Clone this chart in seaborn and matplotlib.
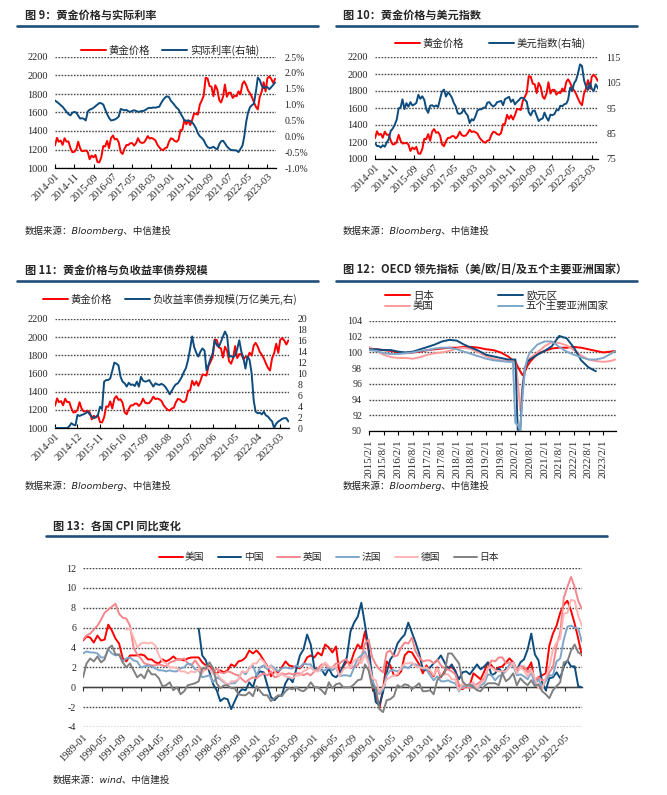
import matplotlib
matplotlib.use("Agg")
import matplotlib.pyplot as plt
from matplotlib.lines import Line2D
import pandas as pd
import seaborn as sns

W, H = 667, 795

# ---- data: gold price, monthly 2014-01 .. 2023-07 (shared by fig 9/10/11)
GOLD = [
    1244, 1326, 1284, 1296, 1250, 1322, 1285, 1287, 1216, 1171, 1175, 1199,
    1284, 1213, 1183, 1184, 1190, 1172, 1095, 1135, 1115, 1142, 1065, 1061,
    1118, 1238, 1233, 1293, 1215, 1322, 1351, 1309, 1316, 1277, 1173, 1151,
    1211, 1249, 1249, 1268, 1269, 1242, 1269, 1322, 1280, 1271, 1275, 1303,
    1345, 1318, 1325, 1315, 1299, 1253, 1224, 1201, 1192, 1215, 1222, 1282,
    1321, 1313, 1292, 1284, 1305, 1409, 1414, 1520, 1472, 1513, 1464, 1517,
    1589, 1585, 1577, 1686, 1730, 1781, 1975, 1968, 1886, 1879, 1776, 1895,
    1850, 1734, 1708, 1769, 1903, 1770, 1814, 1814, 1757, 1783, 1775, 1829,
    1797, 1909, 1937, 1897, 1838, 1807, 1766, 1711, 1661, 1633, 1769, 1824,
    1928, 1827, 1969, 1990, 1963, 1919, 1965,
]
REAL_RATE = [
    1.13, 1.08, 1.04, 0.98, 0.93, 0.85, 0.77, 0.70, 0.66, 0.74, 0.77, 0.75,
    0.65, 0.56, 0.57, 0.55, 0.50, 0.78, 0.84, 0.86, 0.90, 0.95, 1.00, 1.05,
    1.04, 1.00, 0.85, 0.70, 0.58, 0.50, 0.51, 0.53, 0.57, 0.62, 0.86, 0.84,
    0.82, 0.83, 0.79, 0.77, 0.80, 0.82, 0.80, 0.77, 0.78, 0.80, 0.80, 0.84,
    0.88, 0.90, 0.89, 0.91, 0.90, 0.92, 0.93, 1.05, 1.15, 1.22, 1.26, 1.24,
    1.12, 1.05, 0.98, 0.90, 0.85, 0.72, 0.62, 0.50, 0.49, 0.50, 0.48, 0.44,
    0.36, 0.25, 0.10, 0.00, -0.05, -0.12, -0.25, -0.34, -0.37, -0.36, -0.33, -0.38,
    -0.41, -0.25, -0.16, -0.14, -0.22, -0.32, -0.38, -0.43, -0.44, -0.44, -0.45, -0.50,
    -0.40, -0.30, -0.02, 0.45, 0.75, 0.92, 0.98, 1.03, 1.40, 1.85, 1.78, 1.60,
    1.52, 1.55, 1.55, 1.48, 1.55, 1.62, 1.70,
]
DXY = [
    81.3, 80.1, 80.1, 79.5, 80.4, 79.8, 81.5, 82.8, 86.0, 86.9, 88.4, 90.3,
    94.8, 95.3, 98.4, 94.6, 96.9, 95.5, 97.3, 96.0, 96.4, 97.0, 100.2, 98.6,
    99.6, 98.2, 94.6, 93.1, 95.9, 96.1, 95.5, 96.0, 95.4, 98.5, 101.5, 102.2,
    99.5, 101.1, 100.4, 99.1, 97.0, 95.6, 92.9, 92.7, 93.1, 94.6, 93.0, 92.1,
    89.1, 90.6, 90.1, 91.8, 94.0, 94.5, 94.5, 95.1, 95.1, 97.1, 97.3, 96.2,
    95.6, 96.2, 97.3, 97.5, 97.8, 96.1, 98.5, 98.9, 99.4, 97.4, 98.3, 96.4,
    97.4, 98.1, 99.0, 99.0, 98.3, 97.4, 93.3, 92.1, 93.9, 94.0, 91.9, 89.9,
    90.6, 90.9, 93.2, 91.3, 90.0, 92.4, 92.2, 92.6, 94.2, 94.1, 95.9, 95.7,
    96.5, 96.7, 98.3, 103.0, 101.7, 104.7, 105.9, 108.7, 112.1, 111.5, 105.9, 103.5,
    102.1, 104.9, 102.5, 101.7, 104.3, 102.9, 101.9,
]
NEG_BONDS = [
    0, 0, 0, 0, 0, 0, 0, 0.3, 0.9, 0.6, 0.5, 2.4,
    2.2, 2.4, 2.5, 2.7, 3.0, 2.5, 2.1, 1.8, 2.0, 2.4, 3.9, 3.5,
    8.5, 8.8, 8.8, 9.1, 10.5, 12.0, 11.8, 11.5, 9.4, 8.5, 8.2, 7.6,
    8.3, 7.9, 8.0, 7.7, 8.5, 7.6, 9.4, 8.7, 8.5, 8.6, 8.8, 8.2,
    7.6, 8.2, 8.0, 7.9, 8.1, 7.9, 7.5, 6.9, 6.2, 6.8, 7.5, 8.0,
    8.2, 8.8, 9.4, 10.3, 11.0, 12.5, 14.5, 16.8, 14.8, 13.8, 13.1, 14.0,
    14.6, 14.2, 10.6, 11.6, 12.8, 13.7, 16.1, 15.2, 14.9, 15.8, 16.8, 17.7,
    16.9, 13.1, 13.2, 13.0, 13.3, 14.5, 16.1, 14.0, 12.8, 10.9, 13.1, 12.5,
    10.0, 5.0, 3.0, 2.7, 2.8, 2.5, 3.0, 2.3, 2.1, 1.6, 1.2, 0.0,
    0.8, 1.2, 1.4, 1.7, 1.8, 1.8, 1.2,
]

# ---- data: OECD leading indicators (fig 12)
CLI_DATES = [
    "2015-02", "2015-05", "2015-08", "2015-11", "2016-02", "2016-05", "2016-08", "2016-11",
    "2017-02", "2017-05", "2017-08", "2017-11", "2018-02", "2018-05", "2018-08", "2018-11",
    "2019-02", "2019-05", "2019-08", "2019-11", "2020-01", "2020-02", "2020-03", "2020-04",
    "2020-05", "2020-06", "2020-07", "2020-08", "2020-11", "2021-02", "2021-05", "2021-08",
    "2021-11", "2022-02", "2022-05", "2022-08", "2022-11", "2023-02", "2023-05", "2023-07",
]
CLI_JAPAN = [
    100.5, 100.4, 100.3, 100.2, 100.0, 99.9, 100.0, 100.1, 100.3, 100.4,
    100.5, 100.6, 100.6, 100.7, 100.7, 100.6, 100.4, 100.3, 100.0, 99.5,
    99.0, 98.9, 98.2, 97.6, 97.1, 97.6, 98.3, 98.8,
    99.8, 100.2, 100.5, 100.6, 100.6, 100.7, 100.6, 100.4, 100.2, 100.0, 100.1, 100.2,
]
CLI_US = [
    100.7, 100.2, 99.7, 99.4, 99.3, 99.3, 99.2, 99.4, 99.7, 99.9,
    100.0, 100.2, 100.5, 100.6, 100.4, 100.0, 99.5, 99.2, 99.0, 98.9,
    98.9, 98.8, 96.5, 92.6, 96.0, 98.2, 98.9, 99.3,
    100.0, 100.8, 101.3, 101.2, 100.9, 100.3, 99.6, 99.1, 98.9, 98.8, 98.9, 99.1,
]
CLI_EURO = [
    100.4, 100.4, 100.3, 100.3, 100.1, 100.0, 100.1, 100.4, 100.7, 101.0,
    101.4, 101.6, 101.5, 101.0, 100.6, 100.2, 99.7, 99.5, 99.3, 99.1,
    99.1, 99.1, 90.2, 90.0, 95.5, 98.0, 98.8, 99.1,
    99.7, 100.2, 100.8, 102.1, 101.8, 100.6, 99.0, 98.1, 97.6,
]
CLI_ASIA = [
    100.3, 100.2, 99.9, 99.8, 99.8, 99.9, 100.0, 100.2, 100.3, 100.5,
    100.6, 100.6, 100.4, 100.1, 99.8, 99.5, 99.2, 99.0, 98.9, 98.8,
    98.8, 91.0, 90.8, 90.0, 94.5, 98.0, 99.3, 100.0,
    101.0, 101.4, 101.4, 100.7, 100.1, 99.7, 99.4, 99.1, 99.1, 99.3, 99.8, 100.2,
]

# ---- data: CPI yoy, quarterly (fig 13)
CPI_US = [
    4.7, 5.1, 5.0, 4.5, 5.2, 4.7, 4.8, 6.3, 5.7, 4.9, 4.4, 2.9, 2.6, 3.2, 3.2, 3.2,
    3.3, 3.2, 2.8, 2.8, 2.5, 2.4, 2.8, 2.6, 2.8, 3.1, 2.8, 2.8, 2.7, 2.9, 3.0, 3.0,
    3.0, 2.5, 2.2, 2.1, 1.6, 1.4, 1.7, 1.5, 1.7, 2.3, 2.1, 2.6, 2.7, 3.0, 3.7, 3.4,
    3.7, 3.3, 2.7, 2.1, 1.1, 1.6, 1.5, 2.0, 2.6, 2.2, 2.1, 2.0, 1.9, 2.3, 3.0, 3.2,
    3.0, 3.5, 3.2, 4.3, 4.0, 3.5, 4.1, 1.3, 2.1, 2.6, 2.4, 3.5, 4.3, 3.9, 5.6, 3.7,
    0.0, -0.7, -2.1, -0.2, 2.6, 2.2, 1.2, 1.2, 1.6, 3.2, 3.6, 3.5, 2.9, 2.3, 1.4, 2.2,
    1.6, 1.1, 2.0, 1.0, 1.6, 2.0, 2.0, 1.7, -0.1, -0.2, 0.2, 0.2, 1.4, 1.1, 0.8, 1.6,
    2.5, 2.2, 1.7, 2.0, 2.1, 2.5, 2.9, 2.5, 1.6, 2.0, 1.8, 1.8, 2.5, 0.3, 1.0, 1.2,
    1.4, 4.2, 5.4, 6.2, 7.5, 8.3, 8.7, 7.7, 6.4, 4.9, 3.2,
]
CPI_CHINA = [  # from 1997-01
    5.9, 3.2, 2.7, 1.5, 0.3, -0.3, -1.4, -1.1, -1.2, -2.2, -1.4, -0.6,
    -0.2, -0.3, 0.5, 0.0, 1.2, 1.6, 1.5, 0.2, -1.0, -1.3, -0.9, -0.8,
    0.4, 1.0, 0.5, 1.8, 3.2, 3.8, 5.3, 4.3, 1.9, 1.8, 1.8, 1.2,
    1.9, 1.2, 1.0, 1.4, 2.2, 3.0, 5.6, 6.5, 7.1, 8.5, 6.3, 4.0,
    1.0, -1.5, -1.8, -0.5, 1.5, 2.8, 3.3, 4.4, 4.9, 5.3, 6.5, 5.5,
    4.5, 3.4, 1.8, 1.7, 2.0, 2.4, 2.7, 3.2, 2.5, 1.8, 2.3, 1.6,
    0.8, 1.5, 1.6, 1.3, 1.8, 2.3, 1.8, 2.1, 2.5, 1.2, 1.4, 1.9,
    1.5, 1.8, 2.1, 2.5, 1.7, 2.5, 2.8, 3.8, 5.4, 3.3, 2.7, 0.5,
    -0.3, 0.9, 1.0, 1.5, 0.9, 2.1, 2.7, 2.1, 2.1, 0.1, 0.0,
]
CPI_UK = [
    4.8, 5.2, 5.4, 5.8, 6.2, 6.8, 7.5, 7.8, 8.1, 8.4, 7.4, 7.0, 6.9, 6.2, 4.0, 3.3,
    2.9, 2.4, 2.3, 2.2, 2.2, 2.3, 2.2, 2.1, 2.5, 2.6, 2.8, 2.8, 2.9, 2.4, 2.2, 2.7,
    2.2, 1.6, 1.8, 1.9, 1.5, 1.9, 1.5, 1.4, 1.6, 1.5, 1.3, 1.2, 0.8, 0.5, 0.8, 1.0,
    0.9, 1.2, 1.4, 1.2, 1.6, 1.0, 1.1, 1.4, 1.3, 1.4, 1.3, 1.4, 1.4, 1.2, 1.4, 1.2,
    1.6, 1.9, 2.3, 2.3, 1.9, 2.0, 2.4, 2.4, 2.7, 2.8, 1.9, 2.1, 2.2, 3.0, 4.4, 4.8,
    3.0, 2.3, 1.8, 1.5, 3.5, 3.7, 3.1, 3.2, 4.0, 4.5, 4.4, 5.0, 3.6, 3.0, 2.6, 2.7,
    2.7, 2.4, 2.8, 2.2, 1.9, 1.8, 1.6, 1.3, 0.3, -0.1, 0.1, -0.1, 0.3, 0.3, 0.6, 0.9,
    1.8, 2.7, 2.6, 3.0, 3.0, 2.4, 2.5, 2.4, 1.8, 2.1, 2.1, 1.5, 1.8, 0.8, 1.0, 0.7,
    0.7, 1.5, 2.0, 4.2, 5.5, 9.0, 10.1, 11.1, 10.1, 8.7, 7.9,
]
CPI_FRANCE = [
    3.4, 3.6, 3.5, 3.5, 3.4, 3.0, 3.0, 3.8, 3.4, 3.2, 3.3, 2.6, 2.9, 3.0, 2.7, 2.6,
    2.0, 2.1, 2.2, 2.1, 1.9, 1.7, 1.7, 1.6, 1.7, 1.6, 1.6, 1.9, 2.0, 2.4, 2.3, 1.8,
    1.7, 1.0, 1.1, 1.2, 0.5, 1.0, 0.8, 0.5, 0.3, 0.4, 0.4, 0.8, 1.6, 1.3, 1.9, 2.2,
    1.2, 2.0, 2.2, 1.8, 2.2, 1.9, 1.6, 1.9, 2.0, 1.9, 1.9, 2.2, 2.0, 2.4, 2.3, 2.3,
    1.6, 1.7, 1.7, 1.7, 2.0, 1.7, 2.0, 1.1, 1.2, 1.2, 1.1, 2.0, 2.9, 3.2, 3.6, 2.7,
    0.7, -0.1, -0.7, -0.2, 1.2, 1.7, 1.7, 1.6, 1.8, 2.1, 1.9, 2.3, 2.3, 2.1, 1.9, 1.8,
    1.2, 0.7, 1.1, 0.6, 0.6, 0.7, 0.5, 0.4, -0.4, 0.1, 0.2, 0.1, 0.2, -0.2, 0.2, 0.4,
    1.3, 1.2, 0.7, 1.1, 1.3, 1.6, 2.3, 2.2, 1.2, 1.3, 1.1, 0.8, 1.5, 0.3, 0.8, 0.0,
    0.6, 1.2, 1.2, 2.6, 2.9, 4.8, 6.1, 6.2, 6.0, 5.9, 4.6,
]
CPI_GERMANY = [  # from 1992-01
    5.8, 5.9, 5.0, 4.0, 4.4, 4.5, 4.4, 4.5, 4.2, 3.2, 2.6, 2.4,
    2.0, 2.0, 1.9, 1.6, 1.6, 1.4, 1.6, 1.5, 1.8, 1.4, 2.1, 1.9,
    1.3, 1.4, 0.9, 0.6, 0.2, 0.6, 0.6, 0.8, 1.6, 1.5, 1.8, 2.4,
    2.4, 2.9, 2.6, 2.0, 2.1, 1.6, 1.2, 1.3, 1.1, 1.0, 0.9, 1.2,
    1.2, 1.6, 1.8, 2.0, 1.6, 1.6, 2.0, 2.5, 2.1, 2.0, 2.1, 1.1,
    1.8, 2.0, 2.0, 2.7, 2.9, 2.4, 3.3, 2.4, 0.9, 0.7, -0.5, 0.0,
    0.8, 1.0, 1.2, 1.3, 2.0, 2.4, 2.4, 2.5, 2.1, 2.0, 1.9, 2.0,
    1.7, 1.2, 1.9, 1.2, 1.3, 1.3, 0.8, 0.8, -0.3, 0.4, 0.2, 0.3,
    0.5, -0.1, 0.4, 0.7, 1.9, 2.0, 1.7, 1.6, 1.6, 1.6, 2.0, 2.5,
    1.4, 2.0, 1.7, 1.1, 1.7, 0.9, -0.1, -0.2, 1.0, 2.0, 3.8, 4.5,
    4.9, 7.4, 7.5, 8.8, 8.7, 7.2, 6.2,
]
CPI_JAPAN = [
    1.0, 2.4, 2.9, 2.6, 3.1, 2.5, 2.8, 3.9, 4.2, 3.3, 3.3, 2.5, 2.0, 2.4, 1.7, 1.0,
    1.3, 0.9, 1.8, 1.3, 1.3, 0.9, 0.1, 0.2, 0.5, -0.3, 0.0, -0.7, -0.4, 0.2, 0.3, 0.4,
    0.6, 1.9, 1.9, 2.5, 1.9, 0.4, -0.1, 0.2, 0.2, -0.1, -0.1, -0.7, -0.8, -0.8, -0.5, -0.9,
    0.1, -0.4, -0.8, -0.8, -1.4, -1.1, -0.8, -0.9, -0.4, -0.1, -0.2, 0.0, -0.3, -0.4, -0.1, 0.5,
    0.0, 0.0, -0.3, -0.7, 0.5, -0.1, 0.3, 0.4, 0.0, 0.0, 0.0, 0.3, 0.7, 0.8, 2.3, 1.7,
    0.0, -0.1, -2.2, -2.5, -1.3, -1.2, -0.9, 0.2, 0.0, 0.3, 0.2, -0.2, 0.1, 0.4, -0.4, -0.4,
    -0.3, -0.7, 0.7, 1.1, 1.4, 3.4, 3.4, 2.9, 2.4, 0.6, 0.2, 0.3, 0.0, -0.3, -0.4, 0.1,
    0.4, 0.4, 0.4, 0.2, 1.4, 0.6, 0.9, 1.4, 0.2, 0.9, 0.5, 0.2, 0.7, 0.1, 0.3, -0.4,
    -0.7, -1.1, -0.3, 0.1, 0.5, 2.5, 2.6, 3.7, 4.3, 3.5, 3.3,
]

# ---- style
RED = "#FF0000"
NAVY = "#0E4C7D"
SALMON = "#F4868C"
PINK = "#FFB4B4"
STEEL = "#7FA6C9"
GRAY = "#808080"
RULE = "#1F4E79"
GRID = "#4A4A4A"
CJK = ["Noto Sans CJK SC", "DejaVu Sans"]

sns.set_theme(style="white")
plt.rcParams["font.family"] = CJK
plt.rcParams["axes.unicode_minus"] = False


def fx(x):
    return x / W


def fy(y):
    return 1 - y / H


def make_axes(fig, x0, y0, x1, y1):
    return fig.add_axes([fx(x0), fy(y1), fx(x1 - x0), (y1 - y0) / H])


def header(fig, tx, ty, title, rx0, rx1, ry, src, sy):
    fig.text(fx(tx), fy(ty), title, fontsize=8, fontweight="bold", va="center", ha="left", family=CJK)
    fig.add_artist(Line2D([fx(rx0), fx(rx1)], [fy(ry), fy(ry)], transform=fig.transFigure, color=RULE, lw=1.9))
    fig.text(fx(tx), fy(sy), src, fontsize=6.8, fontstyle="italic", va="center", ha="left",
             family=["DejaVu Sans", "Noto Sans CJK SC"], color="#222222")


def base_style(ax, ylim, yticks, size=7.5):
    ax.set_ylim(*ylim)
    ax.set_yticks(yticks)
    ax.yaxis.grid(True, color=GRID, linestyle=(0, (1.2, 1.0)), linewidth=1.0)
    ax.xaxis.grid(False)
    for s in ("left", "right", "top"):
        ax.spines[s].set_visible(False)
    ax.spines["bottom"].set_color("black")
    ax.spines["bottom"].set_linewidth(0.9)
    ax.tick_params(axis="y", left=False, length=0, labelsize=size, labelfontfamily="Liberation Serif", pad=5)
    ax.set_xlabel("")
    ax.set_ylabel("")


def right_style(ax2, ylim, yticks, labels, size=7):
    ax2.set_ylim(*ylim)
    ax2.set_yticks(yticks)
    ax2.set_yticklabels(labels)
    ax2.grid(False)
    for s in ("left", "right", "top", "bottom"):
        ax2.spines[s].set_visible(False)
    ax2.tick_params(axis="y", right=False, length=0, labelsize=size, labelfontfamily="Liberation Serif", pad=6)
    ax2.set_ylabel("")


def date_ticks(ax, ticks, labels, rotation=45, size=7.5):
    ax.set_xticks(ticks)
    if rotation == 90:
        ax.set_xticklabels(labels, rotation=90, ha="center", va="top")
    else:
        ax.set_xticklabels(labels, rotation=rotation, ha="right", rotation_mode="anchor")
    ax.tick_params(axis="x", bottom=True, direction="in", length=3, width=0.8, color="black",
                   labelsize=size, labelfontfamily="Liberation Serif", pad=3)


def legend(fig, handles, labels, cx, cy, ncol, size=7.5, **kw):
    fig.legend(handles, labels, loc="center", bbox_to_anchor=(fx(cx), fy(cy)), ncol=ncol,
               frameon=False, prop={"family": CJK, "size": size}, handlelength=2.4,
               handletextpad=0.25, borderpad=0, **kw)


fig = plt.figure(figsize=(W / 100, H / 100), dpi=100)
gold_dates = pd.date_range("2014-01-01", periods=len(GOLD), freq="MS")

# ---- fig 9
ax = make_axes(fig, 55, 57, 276, 168)
sns.lineplot(x=gold_dates, y=GOLD, ax=ax, color=RED, linewidth=1.4, legend=False)
ax2 = ax.twinx()
sns.lineplot(x=gold_dates[:len(REAL_RATE)], y=REAL_RATE, ax=ax2, color=NAVY, linewidth=1.4, legend=False)
base_style(ax, (1000, 2200), range(1000, 2201, 200))
rr_ticks = [-1.0, -0.5, 0.0, 0.5, 1.0, 1.5, 2.0, 2.5]
right_style(ax2, (-1.0, 2.5), rr_ticks, [f"{v:.1f}%" for v in rr_ticks])
ticks9 = pd.date_range("2014-01-01", periods=12, freq="10MS")
date_ticks(ax, ticks9, [d.strftime("%Y-%m") for d in ticks9])
ax.set_xlim(pd.Timestamp("2014-01-01"), pd.Timestamp("2023-07-15"))
legend(fig, [ax.lines[0], ax2.lines[0]], ["黄金价格", "实际利率(右轴)"], 170, 50, 2, columnspacing=1.2)
header(fig, 25, 15, "图 9：黄金价格与实际利率", 17, 318, 26, "数据来源：Bloomberg、中信建投", 231)

# ---- fig 10
ax = make_axes(fig, 375, 57, 598, 159)
sns.lineplot(x=gold_dates, y=GOLD, ax=ax, color=RED, linewidth=1.4, legend=False)
ax2 = ax.twinx()
sns.lineplot(x=gold_dates[:len(DXY)], y=DXY, ax=ax2, color=NAVY, linewidth=1.4, legend=False)
base_style(ax, (1000, 2200), range(1000, 2201, 200))
right_style(ax2, (75, 115), [75, 85, 95, 105, 115], ["75", "85", "95", "105", "115"])
date_ticks(ax, ticks9, [d.strftime("%Y-%m") for d in ticks9])
ax.set_xlim(pd.Timestamp("2014-01-01"), pd.Timestamp("2023-06-05"))
legend(fig, [ax.lines[0], ax2.lines[0]], ["黄金价格", "美元指数(右轴)"], 490, 43, 2, columnspacing=2.4)
header(fig, 343, 15, "图 10：黄金价格与美元指数", 336, 637, 26, "数据来源：Bloomberg、中信建投", 231)

# ---- fig 11
ax = make_axes(fig, 55, 319, 289, 428)
sns.lineplot(x=gold_dates, y=GOLD, ax=ax, color=RED, linewidth=1.4, legend=False)
ax2 = ax.twinx()
sns.lineplot(x=gold_dates[:len(NEG_BONDS)], y=NEG_BONDS, ax=ax2, color=NAVY, linewidth=1.4, legend=False)
base_style(ax, (1000, 2200), range(1000, 2201, 200))
right_style(ax2, (0, 20), range(0, 21, 2), [str(v) for v in range(0, 21, 2)])
ticks11 = pd.date_range("2014-01-01", periods=11, freq="11MS")
date_ticks(ax, ticks11, [d.strftime("%Y-%m") for d in ticks11])
ax.set_xlim(pd.Timestamp("2014-01-01"), pd.Timestamp("2023-07-10"))
legend(fig, [ax.lines[0], ax2.lines[0]], ["黄金价格", "负收益率债券规模(万亿美元,右)"], 170, 299, 2,
       columnspacing=1.3)
header(fig, 25, 270, "图 11：黄金价格与负收益率债券规模", 17, 318, 281, "数据来源：Bloomberg、中信建投", 486)

# ---- fig 12
ax = make_axes(fig, 369, 321, 616, 431)
cli_dates = pd.to_datetime(CLI_DATES)
sns.lineplot(x=cli_dates, y=CLI_JAPAN, ax=ax, color=RED, linewidth=1.4, legend=False)
sns.lineplot(x=cli_dates, y=CLI_US, ax=ax, color="#FF9A9A", linewidth=1.4, legend=False)
sns.lineplot(x=cli_dates[:len(CLI_EURO)], y=CLI_EURO, ax=ax, color=NAVY, linewidth=1.4, legend=False)
sns.lineplot(x=cli_dates, y=CLI_ASIA, ax=ax, color=STEEL, linewidth=1.4, legend=False)
base_style(ax, (90, 104), range(90, 105, 2), size=7.2)
ticks12 = pd.date_range("2015-02-01", periods=17, freq="6MS")
date_ticks(ax, ticks12, [f"{d.year}/{d.month}/1" for d in ticks12], rotation=90, size=7.8)
ax.tick_params(axis="x", direction="out")
ax.set_xlim(pd.Timestamp("2015-02-01"), pd.Timestamp("2023-07-10"))
l = ax.lines
legend(fig, [l[0], l[1], l[2], l[3]], ["日本", "美国", "欧元区", "五个主要亚洲国家"], 497, 301, 2,
       columnspacing=6.2, labelspacing=0.05)
header(fig, 343, 270, "图 12：OECD 领先指标（美/欧/日/及五个主要亚洲国家）", 336, 637, 281,
       "数据来源：Bloomberg、中信建投", 486)

# ---- fig 13
ax = make_axes(fig, 83, 568, 582, 727)
q_all = pd.date_range("1989-01-01", periods=len(CPI_US), freq="3MS")
q_china = pd.date_range("1997-01-01", periods=len(CPI_CHINA), freq="3MS")
q_de = pd.date_range("1992-01-01", periods=len(CPI_GERMANY), freq="3MS")
series13 = [
    ("美国", q_all, CPI_US, RED),
    ("中国", q_china, CPI_CHINA, NAVY),
    ("英国", q_all[:len(CPI_UK)], CPI_UK, SALMON),
    ("法国", q_all[:len(CPI_FRANCE)], CPI_FRANCE, STEEL),
    ("德国", q_de, CPI_GERMANY, PINK),
    ("日本", q_all[:len(CPI_JAPAN)], CPI_JAPAN, GRAY),
]
for name, d, v, c in series13:
    sns.lineplot(x=d, y=v, ax=ax, color=c, linewidth=1.4, legend=False)
base_style(ax, (-4, 12), range(-4, 13, 2), size=7.2)
ax.spines["bottom"].set_visible(False)
ticks13 = pd.date_range("1989-01-01", periods=26, freq="16MS")
ax.set_xticks(ticks13)
ax.set_xticklabels([d.strftime("%Y-%m") for d in ticks13], rotation=45, ha="right", rotation_mode="anchor")
ax.tick_params(axis="x", bottom=False, length=0, labelsize=7.5, labelfontfamily="Liberation Serif", pad=4)
ax.set_xlim(pd.Timestamp("1989-01-01"), pd.Timestamp("2023-07-05"))
zero = ax.secondary_xaxis(0.25)
zero.set_xticks(ticks13)
zero.tick_params(axis="x", bottom=True, direction="out", length=3, width=0.8, color="#333333", labelbottom=False)
zero.spines["bottom"].set_color("#333333")
zero.spines["bottom"].set_linewidth(1.0)
legend(fig, ax.lines[:6], [s[0] for s in series13], 329, 557, 6, size=7, columnspacing=1.4)
header(fig, 53, 526, "图 13：各国 CPI 同比变化", 46, 607, 536, "数据来源：wind、中信建投", 780)

fig.savefig("out.png", dpi=100)
